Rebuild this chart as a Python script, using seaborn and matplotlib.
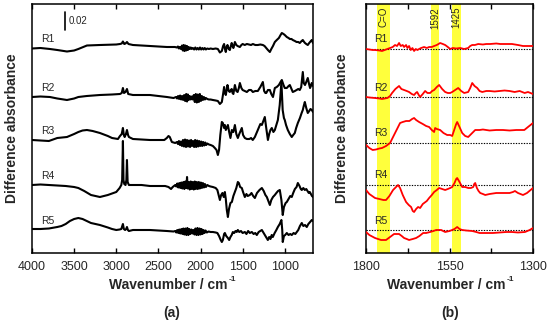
import matplotlib
matplotlib.use("Agg")
import matplotlib.pyplot as plt
import seaborn as sns
import pandas as pd

sns.set_theme(style="white")
plt.rcParams["font.family"] = ["Liberation Sans", "DejaVu Sans"]

# ---------------- data (difference absorbance, 1 unit = 0.02/18) ----------------
samples = ["R1", "R2", "R3", "R4", "R5"]
offsets_a = [205, 156, 113, 68, 23]
offsets_b = [204, 156, 110, 68, 23]

r1_a = [(4000,-0.5),(3900,0),(3787,-1),(3700,-2),(3585,-3.5),(3500,-2.5),(3450,-1),(3348,2.5),(3194,3),(3000,3.5),(2956,4),(2935,4.5),(2921,6.5),(2905,4),(2890,4.5),(2873,6),(2855,4),(2802,3),(2700,2.5),(2600,2),(2500,1.5),(2399,1),(2304,1),
        (2280,0.5),(2268,1.5),(2256,-0.5),(2244,1),(2232,-1),(2220,2.5),(2210,-2.5),(2200,3),(2190,-3),(2180,2.5),(2170,-2.5),(2160,2),(2150,-2),(2140,1),(2128,-1),(2116,0.5),(2104,-1),(2090,0),(2076,-1.5),(2062,0.5),(2048,-1.5),(2034,0),(2020,-1.5),(2006,0.5),(1992,-1.5),(1978,0),(1964,-1.5),(1950,0),(1936,-1.5),(1920,-0.5),(1900,-1),(1880,-0.5),(1853,-1),(1820,-0.5),
        (1794,-1),(1770,-4.5),(1747,-3),(1732,2),(1720,4),(1710,-1),(1700,-4),(1690,1),(1680,3),(1665,-1),(1652,-2),(1640,2),(1630,5),(1620,2),(1610,0),(1600,3),(1592,6),(1575,3),(1560,2),(1533,1),(1515,3),(1500,4),(1475,3),(1450,4),(1425,3.5),(1400,3),(1379,4),(1350,3),(1320,3),(1290,3.5),(1260,3),(1240,2),(1220,0),(1200,-2),(1177,-4),(1160,-1),(1140,2),(1118,6),(1095,8),(1070,10),(1050,13),(1035,15),(1015,14),(1000,13),(976,11),(955,10),(940,9),(920,9),(905,8),(880,7),(860,6),(840,6),(822,5),(800,7),(786,8),(770,6),(760,5),(745,4),(727,3),(710,5),(700,6),(690,7),(679,8),(665,5)]

r2_a = [(4000,0),(3900,0.5),(3787,0),(3700,-1.5),(3585,-3),(3500,-1.5),(3450,0),(3350,1),(3194,2),(3050,2.5),(2956,3),(2935,4),(2921,9),(2908,4),(2890,5),(2873,8),(2858,3),(2802,2),(2700,2),(2600,2),(2500,1),(2399,0),(2320,-1),
        (2290,0),(2278,-1.5),(2266,1),(2254,-2),(2242,1.5),(2230,-2.5),(2218,1),(2206,-3),(2194,2),(2182,-4),(2170,3),(2160,-4.5),(2150,2.5),(2140,-3),(2128,1),(2116,-2.5),(2104,0.5),(2092,-2.5),(2080,2),(2068,-5),(2056,3),(2044,-5.5),(2032,2.5),(2020,-5),(2008,3),(1996,-4),(1984,1),(1972,-3),(1960,0),(1948,-2.5),(1936,-1),(1920,-2),(1900,-2.5),(1880,-2.5),(1853,-3),(1820,-3.5),
        (1794,-4),(1770,-7),(1747,-5),(1732,3),(1720,10),(1710,4),(1700,2),(1690,7),(1680,12),(1665,6),(1652,5),(1640,7),(1630,8),(1620,4),(1610,3),(1600,8),(1592,12),(1575,6),(1560,5),(1545,9),(1533,14),(1515,9),(1500,7),(1475,6),(1450,5),(1425,7),(1400,7),(1379,5),(1350,6),(1320,6),(1290,10),(1260,15),(1245,6),(1230,4),(1220,4),(1200,7),(1177,7),(1160,3),(1140,0),(1118,9),(1095,10),(1070,12),(1050,15),(1035,17),(1015,12),(1000,9),(976,9),(955,11),(940,12),(920,8),(905,5),(880,6),(860,7),(840,8),(822,7),(805,10),(786,25),(775,14),(760,12),(745,15),(727,19),(712,13),(700,9),(690,11),(680,14),(665,11)]

r3_a = [(4000,0),(3900,-0.5),(3800,-1),(3700,2),(3585,3),(3500,6),(3450,8),(3400,9.5),(3348,10),(3280,9),(3194,7),(3100,4),(3050,2),(2980,1),(2956,4),(2935,6),(2921,12),(2910,5),(2900,3),(2885,6),(2873,10),(2860,5),(2850,3),(2802,1),(2700,0.5),(2600,0),(2500,0),(2430,0),(2400,2),(2380,4),(2365,3),(2340,-2),(2300,-3),
        (2280,-2),(2268,-4),(2256,-1),(2244,-5),(2232,-1.5),(2220,-6),(2208,0),(2196,-6.5),(2184,0.5),(2172,-7),(2160,0),(2148,-6.5),(2136,-0.5),(2124,-7),(2112,0),(2100,-6),(2088,-1),(2076,-7),(2064,0),(2052,-7),(2040,-0.5),(2028,-6.5),(2016,-1),(2004,-6),(1992,-1.5),(1980,-6),(1968,-2),(1956,-5.5),(1944,-2.5),(1932,-5),(1920,-3.5),(1900,-4.5),(1880,-5),(1853,-6),(1830,-8),
        (1810,-10),(1794,-15),(1780,-10),(1765,5),(1747,18),(1735,17),(1720,12),(1711,15),(1700,10),(1690,12),(1675,15),(1660,8),(1645,2),(1628,10),(1610,8),(1592,15),(1575,6),(1557,2),(1540,6),(1520,10),(1510,12),(1495,5),(1474,2),(1450,1),(1420,1),(1400,2),(1380,0),(1355,3),(1330,8),(1310,12),(1290,16),(1272,15),(1250,20),(1237,23),(1220,12),(1200,0),(1185,6),(1170,10),(1154,12),(1135,8),(1118,10),(1100,15),(1082,20),(1060,35),(1040,58),(1025,30),(1010,22),(1000,20),(985,15),(964,10),(940,6),(917,3),(900,5),(881,7),(865,12),(845,17),(820,22),(800,27),(786,30),(775,34),(762,38),(745,32),(727,27),(710,29),(695,31),(679,30),(665,28)]

r4_a = [(4000,0),(3900,0.5),(3800,0),(3700,-0.5),(3600,-1),(3500,-2),(3450,-3),(3380,-6),(3300,-10),(3250,-11),(3194,-12),(3100,-10),(3000,-7),(2960,-3),(2940,0),(2930,5),(2921,44),(2914,5),(2905,1),(2890,0),(2880,5),(2873,25),(2865,3),(2850,0),(2802,0),(2700,0),(2600,-1),(2500,-1),(2420,-1),(2380,-2),(2350,-4),(2330,-2),(2300,0),
        (2288,-1.5),(2276,1.5),(2264,-2.5),(2252,2),(2240,-3),(2228,2.5),(2216,-3.5),(2204,3),(2192,-4),(2180,3.5),(2168,-3),(2160,8),(2152,-3.5),(2140,3),(2128,-4.5),(2116,3.5),(2104,-4),(2092,3),(2080,-4.5),(2068,3.5),(2056,-4),(2044,3),(2032,-4),(2020,3),(2008,-3.5),(1996,2.5),(1984,-3),(1972,2),(1960,-2.5),(1948,1),(1936,-2),(1920,0),(1900,-1),(1880,-1.5),(1853,-2),(1820,-3),
        (1800,-5),(1785,-10),(1770,-15),(1755,-10),(1740,-8),(1725,-12),(1711,-7),(1700,-14),(1688,-25),(1675,-32),(1662,-24),(1645,-18),(1628,-17),(1610,-11),(1592,-7),(1575,-3),(1557,3),(1545,2),(1530,-2),(1510,-3),(1495,-7),(1474,-12),(1455,-9),(1440,-11),(1415,-10),(1395,-8),(1375,-11),(1355,-13),(1330,-8),(1300,-5),(1272,-3),(1250,-6),(1230,-10),(1213,-12),(1195,-16),(1177,-20),(1160,-15),(1140,-12),(1118,-10),(1100,-8),(1080,-6),(1059,-5),(1040,-15),(1024,-30),(1010,-22),(990,-18),(976,-17),(955,-14),(935,-11),(917,-12),(900,-8),(880,-4),(860,-2),(845,2),(825,-1),(810,-4),(798,-5),(780,-3),(762,-5),(745,-4),(730,-6),(715,-8),(703,-7),(690,-9),(677,-11),(665,-12)]

r5_a = [(4000,1),(3900,1),(3800,1.5),(3700,3),(3650,4),(3600,6),(3550,9),(3500,11),(3450,12),(3400,11),(3350,9),(3300,7),(3250,6),(3194,5),(3100,2.5),(3050,1),(3000,0),(2960,0.5),(2940,1),(2921,6),(2910,1),(2895,0),(2882,1),(2873,3),(2862,0),(2850,-1),(2802,0),(2700,0),(2600,0),(2500,-0.5),(2400,-1),(2320,-1.5),
        (2300,-1),(2288,-2.5),(2276,0),(2264,-3),(2252,0.5),(2240,-3.5),(2228,1),(2216,-4),(2204,1.5),(2192,-4.5),(2180,1.5),(2168,-5),(2156,2),(2144,-5),(2132,1),(2120,-4),(2108,0.5),(2096,-3.5),(2084,0),(2072,-4.5),(2060,1.5),(2048,-5),(2036,2),(2024,-5),(2012,1.5),(2000,-4.5),(1988,1),(1976,-4),(1964,0),(1952,-3),(1940,-0.5),(1925,-2.5),(1905,-1.5),(1880,-2),(1853,-2),(1820,-2.5),
        (1800,-3),(1780,-6),(1760,-10),(1747,-12),(1735,-10),(1720,-4),(1711,-3),(1695,-6),(1675,-8),(1660,-10),(1645,-7),(1630,-5),(1616,-2),(1600,-3),(1585,-1),(1570,-2),(1557,0),(1540,-2),(1520,-1),(1500,-3),(1474,-2),(1455,-4),(1435,-1),(1415,-3),(1391,-2),(1370,-4),(1350,-3),(1332,-5),(1310,-2),(1290,-1),(1272,0),(1250,-3),(1230,-6),(1215,-8),(1201,-10),(1185,-7),(1170,-9),(1155,-5),(1142,-7),(1120,-3),(1100,0),(1082,3),(1060,6),(1040,10),(1030,0),(1024,-12),(1010,-6),(995,-5),(976,-3),(955,-5),(935,-4),(917,-5),(895,-3),(875,-4),(857,-2),(840,0),(820,4),(798,7),(780,4),(760,5),(739,3),(720,6),(700,8),(679,10),(665,9)]

r1_b = [(1800,0),(1790,-0.5),(1780,-1),(1773,-1),(1760,-1.5),(1752,-2),(1740,-0.5),(1728,1),(1720,2),(1713,4),(1707,3),(1701,6),(1696,3),(1690,4),(1686,2),(1680,4),(1676,1),(1671,3),(1666,-1),(1661,1),(1656,-2),(1651,0),(1646,-1),(1641,0),(1635,1),(1626,2),(1618,1),(1611,2),(1603,2),(1596,3),(1588,4),(1578,6),(1570,5),(1563,4),(1555,2),(1548,0),(1540,1),(1530,0.5),(1518,1),(1506,0),(1494,1),(1488,3),(1482,4),(1474,4),(1464,5),(1450,4.5),(1440,5),(1428,5),(1410,5.5),(1398,5),(1380,5),(1363,5),(1345,4),(1330,3),(1315,3),(1300,3)]
r2_b = [(1800,0),(1790,-0.5),(1773,-1),(1760,-1.5),(1752,-2),(1736,-1),(1728,1),(1722,4),(1712,8),(1701,11),(1694,8),(1686,7),(1678,6),(1671,5),(1663,3),(1656,2),(1651,4),(1647,5),(1642,2),(1638,0),(1630,3),(1623,6),(1616,4),(1608,4),(1602,6),(1596,7),(1588,10),(1581,12),(1572,8),(1563,5),(1555,4),(1548,4),(1542,5),(1533,7),(1524,9),(1515,6),(1506,4),(1494,5),(1488,9),(1482,14),(1475,11),(1467,9),(1460,6),(1452,5),(1440,6),(1430,6),(1415,5.5),(1400,6),(1385,6.5),(1370,6),(1355,5),(1340,6),(1325,4),(1315,5),(1300,3)]
r3_b = [(1800,-2),(1790,-5),(1780,-7),(1770,-6.5),(1760,-5.5),(1752,-5),(1740,-3),(1728,0),(1719,6),(1710,12),(1704,16),(1698,20),(1690,21),(1680,22),(1670,22),(1662,24),(1656,25),(1650,23),(1641,21),(1630,19),(1620,17),(1611,16),(1603,13),(1596,11),(1593,15),(1588,14),(1578,13),(1568,10),(1557,8),(1548,8),(1542,7),(1536,13),(1530,19),(1527,21),(1520,16),(1512,10),(1503,7),(1494,6),(1485,9),(1473,13),(1460,13),(1450,13.5),(1430,12.5),(1410,13),(1390,13),(1370,12.5),(1350,13),(1335,13),(1326,13),(1315,16),(1300,20)]
r4_b = [(1800,-5),(1790,-9),(1773,-13),(1760,-14),(1748,-15),(1740,-15),(1730,-11),(1719,-5),(1710,-2),(1704,0),(1698,-3),(1690,-10),(1680,-17),(1672,-20),(1665,-22),(1660,-26),(1656,-27),(1650,-24),(1644,-22),(1638,-23),(1630,-19),(1626,-18),(1618,-16),(1611,-13),(1603,-10),(1596,-7),(1588,-5),(1581,-3),(1572,-4),(1563,-5),(1555,-4),(1548,-3),(1542,-2),(1535,2),(1530,6),(1527,7),(1520,3),(1512,-2),(1503,-2),(1494,-3),(1486,-3),(1479,-2),(1476,1),(1473,2),(1468,-3),(1463,-6),(1458,-8),(1450,-9),(1443,-10),(1430,-9),(1410,-8),(1390,-8),(1370,-8),(1360,-7),(1354,-6),(1345,-8),(1330,-10),(1318,-8),(1300,-3)]
r5_b = [(1800,-2),(1790,-5),(1773,-8),(1755,-10),(1740,-10),(1728,-7),(1716,-4),(1701,-4),(1693,-6),(1686,-8),(1678,-9),(1671,-10),(1660,-9),(1650,-8),(1640,-6),(1629,-3),(1620,-3),(1608,-2),(1598,-1),(1590,0),(1575,0),(1563,-2),(1550,-1),(1542,0),(1535,1),(1527,3),(1520,1),(1512,0),(1500,-0.5),(1482,-1),(1470,-2),(1460,-3),(1440,-3),(1420,-3),(1400,-2.5),(1380,-2),(1363,-2),(1345,-2.5),(1324,-2),(1310,0),(1300,2)]

bands = [(1767, 1728, "C=O"), (1606, 1581, "1592"), (1543, 1516, "1425")]
xticks_a = [4000, 3500, 3000, 2500, 2000, 1500, 1000]
xticks_b = [1800, 1675, 1550, 1425, 1300]
xticklabels_b = ["1800", "", "1550", "", "1300"]
scale_bar_units = 18  # = 0.02 absorbance


def frame(traces, offsets):
    rows = []
    for name, tr, off in zip(samples, traces, offsets):
        for wn, v in tr:
            rows.append({"wn": wn, "val": off + v, "sample": name})
    return pd.DataFrame(rows)


df_a = frame([r1_a, r2_a, r3_a, r4_a, r5_a], offsets_a)
df_b = frame([r1_b, r2_b, r3_b, r4_b, r5_b], offsets_b)

W, H = 550, 325
fig = plt.figure(figsize=(W / 100, H / 100), dpi=100)
axL = fig.add_axes([32 / W, 72 / H, 281 / W, 249 / H])
axR = fig.add_axes([366 / W, 72 / H, 167 / W, 249 / H])

sns.lineplot(data=df_a, x="wn", y="val", units="sample", estimator=None,
             color="black", lw=1.5, ax=axL, legend=False)
for x0, x1, _ in bands:
    axR.axvspan(x0, x1, color="#ffff3c", lw=0, zorder=0)
for off in offsets_b:
    axR.axhline(off, color="black", ls=(0, (1.2, 1.2)), lw=0.8, zorder=1)
sns.lineplot(data=df_b, x="wn", y="val", units="sample", estimator=None,
             color="#ff0000", lw=1.3, ax=axR, legend=False, zorder=3)

for ax in (axL, axR):
    ax.set_ylim(0, 249)
    ax.set_yticks([])
    ax.set_xlabel("")
    ax.set_ylabel("")
    for s in ax.spines.values():
        s.set_color("black")
        s.set_linewidth(1.1)
    ax.tick_params(axis="x", direction="in", top=True, bottom=True, length=3.5,
                   width=1, color="black", labelsize=9, pad=6)
    ax.set_facecolor("white")

axL.set_xlim(4000, 665)
axL.set_xticks(xticks_a)
axR.set_xlim(1800, 1300)
axR.set_xticks(xticks_b, labels=xticklabels_b)

# sample labels
for name, off in zip(samples, offsets_a):
    axL.text(3893, off + 9, name, fontsize=7.5, va="center", ha="left")
for name, off in zip(samples, offsets_b):
    axR.text(1776, off + 9.5, name, fontsize=7.5, va="center", ha="left")

# band labels
for x0, x1, lab in bands:
    axR.text((x0 + x1) / 2, 246, lab, rotation=90, fontsize=7, ha="center", va="top")

# scale bar
axL.plot([3609, 3609], [223, 223 + scale_bar_units], color="black", lw=1.2)
axL.text(3560, 232, "0.02", fontsize=7, va="center", ha="left")

bold = dict(fontweight="bold", fontsize=10, ha="center", va="center")
fig.text(12 / W, 1 - 128 / H, "Difference absorbance", rotation=90, **bold)
fig.text(342 / W, 1 - 128 / H, "Difference absorbance", rotation=90, **bold)
fig.text(172 / W, 1 - 313 / H, "(a)", **bold)
fig.text(450 / W, 1 - 313 / H, "(b)", **bold)

renderer = fig.canvas.get_renderer()
for cx in (172, 450):
    t = fig.text(cx / W - 0.006, 1 - 285 / H, "Wavenumber / cm", **bold)
    bb = t.get_window_extent(renderer)
    fig.text(bb.x1 / W + 0.001, bb.y1 / H - 0.006, "-1", fontsize=6, fontweight="bold",
             ha="left", va="center")

fig.savefig("out.png", dpi=100, facecolor="white")
